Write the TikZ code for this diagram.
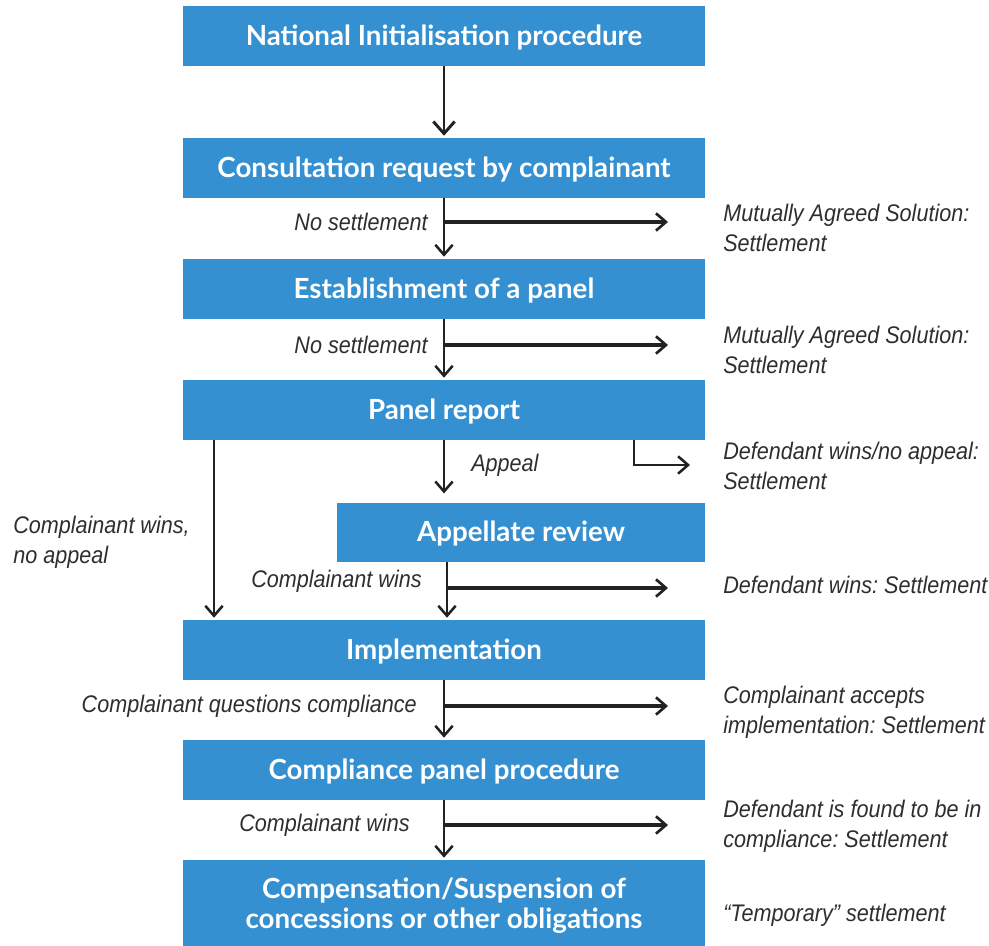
\documentclass[tikz,border=0pt]{standalone}
\usepackage{fontspec}
\usetikzlibrary{arrows.meta}
\newfontfamily\boxfont{Lato}
\newfontfamily\labfont[FakeStretch=0.9]{Liberation Sans}
\definecolor{boxblue}{HTML}{3490D1}
\definecolor{ink}{HTML}{222222}
\definecolor{labgray}{HTML}{2E2E2E}
\frenchspacing
\tikzset{
  stagebox/.style={fill=boxblue, draw=none, text=white, inner sep=0pt,
    font=\boxfont\bfseries\fontsize{20.8}{22.5}\selectfont, align=center,
    text height=15pt, text depth=1.5pt,
    minimum width=391.5pt, minimum height=45pt},
  flow/.style={draw=ink, line width=1.9pt, -{Straight Barb[length=7.5pt,width=13pt,line width=1.9pt]}},
  bigflow/.style={draw=ink, line width=2pt, -{Straight Barb[length=9pt,width=16pt,line width=2.2pt]}},
  side/.style={draw=ink, line width=2.6pt, -{Straight Barb[length=7.5pt,width=13pt,line width=2pt]}},
  lab/.style={text=labgray, font=\labfont\itshape\fontsize{18}{22.5}\selectfont, inner sep=0pt},
  outcome/.style={lab, anchor=west, align=left},
}
\begin{document}
\begin{tikzpicture}[x=0.75pt,y=-0.75pt]
\useasboundingbox (0,0) rectangle (989,946);

% stages
\node[stagebox] (nat) at (444,36) {National Initialisation procedure};
\node[stagebox] (cons) at (444,168) {Consultation request by complainant};
\node[stagebox] (est) at (444,289) {Establishment of a panel};
\node[stagebox] (rep) at (444,410) {Panel report};
\node[stagebox, minimum width=276pt, minimum height=44.25pt] (app) at (521,532.5) {Appellate review};
\node[stagebox] (impl) at (444,650) {Implementation};
\node[stagebox] (comp) at (444,770) {Compliance panel procedure};
\node[stagebox, minimum height=64.5pt, text height={}, text depth=-1.5pt] (susp) at (444,903)
  {Compensation/Suspension of\\concessions or other obligations};

% main line
\draw[bigflow, shorten >=1.5pt] (nat) -- (cons);
\draw[flow, shorten >=1.5pt] (cons) -- (est);
\draw[flow, shorten >=1.5pt] (est) -- (rep);
\draw[flow, shorten >=7pt] (rep.south) -- (rep.south |- app.north);
\coordinate (appx) at (447,562);
\draw[flow, shorten >=1.5pt] (appx) -- (appx |- impl.north);
\draw[flow, shorten >=1.5pt] (impl) -- (comp);
\draw[flow, shorten >=1.5pt] (comp) -- (susp);

% direct route from the panel report to implementation
\coordinate (lx) at (214,440);
\draw[flow, shorten >=1.5pt] (lx) -- (lx |- impl.north);

% branches to settlements
\coordinate (s1a) at (444,222); \coordinate (s1b) at (668,222);
\coordinate (s2a) at (444,345); \coordinate (s2b) at (668,345);
\coordinate (s3a) at (447,588); \coordinate (s3b) at (668,588);
\coordinate (s4a) at (444,706); \coordinate (s4b) at (668,706);
\coordinate (s5a) at (444,825); \coordinate (s5b) at (668,825);
\draw[side] (s1a) -- (s1b);
\draw[side] (s2a) -- (s2b);
\draw[side] (s3a) -- (s3b);
\draw[side] (s4a) -- (s4b);
\draw[side] (s5a) -- (s5b);
\coordinate (ea) at (634,440); \coordinate (eb) at (690,465);
\draw[flow, line width=1.6pt] (ea) |- (eb);

% labels on the main line
\node[lab, anchor=east] (l1) at (428,222) {No settlement};
\node[lab, anchor=east] (l2) at (428,345) {No settlement};
\node[lab, anchor=west] (l3) at (471,465) {Appeal};
\node[lab, anchor=east] (l4) at (422,581) {Complainant wins};
\node[lab, anchor=east] (l5) at (417,706) {Complainant questions compliance};
\node[lab, anchor=east] (l6) at (410,825) {Complainant wins};
\node[lab, anchor=west, align=left] (l7) at (13,542) {Complainant wins,\\no appeal};

% outcomes
\node[outcome] (o1) at (723,228) {Mutually Agreed Solution:\\Settlement};
\node[outcome] (o2) at (723,350) {Mutually Agreed Solution:\\Settlement};
\node[outcome] (o3) at (723,466) {Defendant wins/no appeal:\\Settlement};
\node[outcome] (o4) at (723,585) {Defendant wins: Settlement};
\node[outcome] (o5) at (723,712) {Complainant accepts\\implementation: Settlement};
\node[outcome] (o6) at (723,826) {Defendant is found to be in\\compliance: Settlement};
\node[outcome] (o7) at (723,915) {“Temporary” settlement};
\end{tikzpicture}
\end{document}
